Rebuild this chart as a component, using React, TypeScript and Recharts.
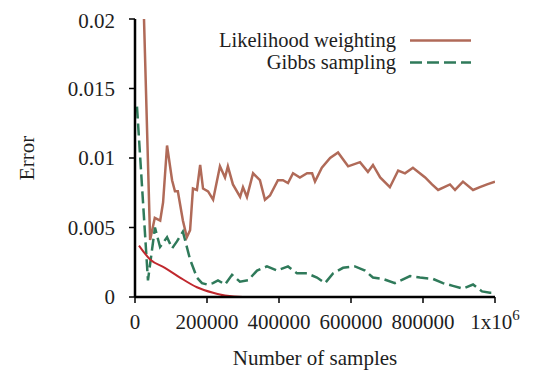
import React from 'react';
import { LineChart, Line, XAxis, YAxis, Label } from 'recharts';

// x = number of samples, values = error
const lwSamples = [25000, 42000, 55000, 70000, 78000, 89000, 103000, 111000, 119000, 133000, 144000, 153000, 161000, 172000, 181000, 189000, 203000, 217000, 236000, 250000, 258000, 272000, 292000, 300000, 311000, 328000, 347000, 361000, 375000, 397000, 411000, 425000, 439000, 458000, 478000, 492000, 500000, 519000, 542000, 564000, 592000, 625000, 647000, 661000, 681000, 708000, 731000, 750000, 772000, 806000, 825000, 842000, 875000, 889000, 911000, 939000, 958000, 978000, 1000000];
const lwErrors = [0.02, 0.0041, 0.0057, 0.0055, 0.0068, 0.0109, 0.0084, 0.0076, 0.0076, 0.0055, 0.0043, 0.0048, 0.0078, 0.0077, 0.0095, 0.0078, 0.0076, 0.0070, 0.0094, 0.0086, 0.0094, 0.0081, 0.0072, 0.0079, 0.0072, 0.0089, 0.0084, 0.0070, 0.0073, 0.0084, 0.0084, 0.0082, 0.0089, 0.0086, 0.0089, 0.0089, 0.0083, 0.0093, 0.0100, 0.0104, 0.0094, 0.0097, 0.0090, 0.0095, 0.0086, 0.0079, 0.0091, 0.0089, 0.0093, 0.0086, 0.0081, 0.0077, 0.0081, 0.0077, 0.0083, 0.0077, 0.0079, 0.0081, 0.0083];

const gibbsSamples = [5500, 36000, 55500, 69500, 89000, 103000, 116500, 133000, 153000, 172000, 186000, 200000, 216500, 230500, 250000, 269500, 291500, 314000, 339000, 366500, 394500, 425000, 450000, 478000, 505500, 528000, 550000, 578000, 611000, 639000, 661000, 689000, 722000, 764000, 791500, 828000, 855500, 883000, 911000, 939000, 964000, 986000, 1000000];
const gibbsErrors = [0.0137, 0.0012, 0.0050, 0.0036, 0.0043, 0.0035, 0.0040, 0.0047, 0.0027, 0.0014, 0.0010, 0.0009, 0.0010, 0.0012, 0.0009, 0.0016, 0.0011, 0.0012, 0.0019, 0.0022, 0.0019, 0.0022, 0.0017, 0.0017, 0.0014, 0.0010, 0.0017, 0.0021, 0.0022, 0.0019, 0.0014, 0.0013, 0.0010, 0.0015, 0.0014, 0.0013, 0.0010, 0.0008, 0.0006, 0.0009, 0.0004, 0.0003, 0.0003];

const sketchSamples = [11000, 42000, 83000, 125000, 172000, 217000, 250000, 300000, 500000, 750000, 1000000];
const sketchErrors = [0.0037, 0.0027, 0.0021, 0.0014, 0.0007, 0.0003, 0.0001, 0, 0, 0, 0];

const xTicks = [0, 200000, 400000, 600000, 800000, 1000000];
const yTicks = [0, 0.005, 0.01, 0.015, 0.02];

const seriesNames = ['Likelihood weighting', 'Gibbs sampling'];

const lwData = lwSamples.map((x, i) => ({ x, lw: lwErrors[i] }));
const gibbsData = gibbsSamples.map((x, i) => ({ x, gibbs: gibbsErrors[i] }));
const sketchData = sketchSamples.map((x, i) => ({ x, sketch: sketchErrors[i] }));

const FONT = 'Liberation Serif, Times New Roman, serif';
const TEXT = '#1e1e1e';
const BROWN = '#b06a58';
const GREEN = '#2f7a5a';
const RED = '#c0282e';
const GREEN_DASH = '12 5';

const XTick = (props: any) => {
  const { x, y, payload } = props;
  const v = payload.value;
  if (v === 1000000) {
    return (
      <text x={x} y={y} dy="0.71em" textAnchor="middle" fontFamily={FONT} fontSize={21} fill={TEXT}>
        <tspan>1x10</tspan>
        <tspan fontSize={15} dy="-0.6em">6</tspan>
      </text>
    );
  }
  return (
    <text x={x} y={y} dy="0.71em" textAnchor="middle" fontFamily={FONT} fontSize={21} fill={TEXT}>
      {String(v)}
    </text>
  );
};

const LegendBox = () => {
  const rows = [
    { name: seriesNames[0], color: BROWN, dash: undefined as string | undefined },
    { name: seriesNames[1], color: GREEN, dash: GREEN_DASH },
  ];
  return (
    <div style={{ position: 'absolute', top: 21, left: 163, width: 300, fontFamily: FONT, fontSize: 20.5, color: TEXT }}>
      {rows.map((r) => (
        <div key={r.name} style={{ display: 'flex', justifyContent: 'flex-end', alignItems: 'center', height: 22, lineHeight: '22px' }}>
          <span>{r.name}</span>
          <svg width={75} height={22} style={{ display: 'block' }}>
            <line x1={14} y1={11.5} x2={75} y2={11.5} stroke={r.color} strokeWidth={2.5} strokeDasharray={r.dash} />
          </svg>
        </div>
      ))}
    </div>
  );
};

export default function App() {
  return (
    <div style={{ position: 'relative', width: 529, height: 363 }}>
      <LineChart width={529} height={363} margin={{ top: 11, right: 42, bottom: 0, left: 0 }}>
        <XAxis
          dataKey="x"
          type="number"
          domain={[0, 1000000]}
          ticks={xTicks}
          tick={<XTick />}
          tickSize={6}
          tickMargin={11}
          height={74}
          axisLine={{ stroke: '#000', strokeWidth: 2.5 }}
          tickLine={{ stroke: '#000', strokeWidth: 1.5 }}
          allowDataOverflow
        >
          <Label value="Number of samples" position="insideBottom" offset={6} style={{ fontFamily: FONT, fontSize: 21, fill: TEXT }} />
        </XAxis>
        <YAxis
          type="number"
          domain={[0, 0.02]}
          ticks={yTicks}
          tickFormatter={(v: number) => String(v)}
          tick={{ fontFamily: FONT, fontSize: 21, fill: TEXT }}
          tickSize={6}
          tickMargin={14}
          width={127}
          axisLine={{ stroke: '#000', strokeWidth: 2.5 }}
          tickLine={{ stroke: '#000', strokeWidth: 1.5 }}
          allowDataOverflow
        >
          <Label value="Error" angle={-90} position="insideLeft" offset={19} style={{ fontFamily: FONT, fontSize: 21, fill: TEXT, textAnchor: 'middle' }} />
        </YAxis>
        <Line data={lwData} dataKey="lw" name={seriesNames[0]} type="linear" stroke={BROWN} strokeWidth={2.5} dot={false} isAnimationActive={false} />
        <Line data={gibbsData} dataKey="gibbs" name={seriesNames[1]} type="linear" stroke={GREEN} strokeWidth={2.5} strokeDasharray={GREEN_DASH} dot={false} isAnimationActive={false} />
        <Line data={sketchData} dataKey="sketch" type="monotone" stroke={RED} strokeWidth={2} dot={false} isAnimationActive={false} />
      </LineChart>
      <LegendBox />
    </div>
  );
}
